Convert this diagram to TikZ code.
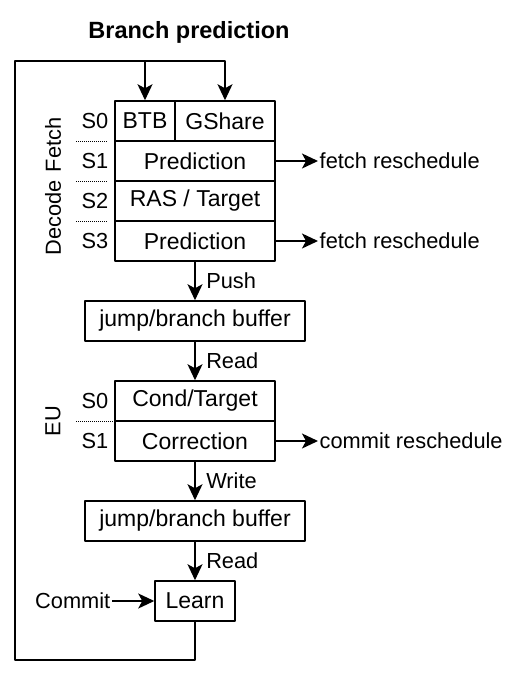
\documentclass[tikz,border=0pt]{standalone}
\usepackage{fontspec}
\setmainfont{Liberation Sans}
\usetikzlibrary{arrows.meta}
\begin{document}
\begin{tikzpicture}[x=1pt,y=-1pt,>={Stealth[length=16pt,width=15pt,inset=4pt]},line join=round,
	font=\fontsize{23}{27}\selectfont,
	cell/.style={draw,line width=1.5pt,minimum height=40pt,inner sep=0pt},
	wire/.style={line width=1.5pt},
	note/.style={inner sep=1.5pt},
	side/.style={inner sep=1.5pt,font=\fontsize{21.8}{25}\selectfont},
	sep/.style={line width=1pt,dash pattern=on 1pt off 1pt}]
	\useasboundingbox (0,0) rectangle (506,678);
	\node[font=\fontsize{23.5}{27}\selectfont\bfseries] (title) at (189,32) {Branch prediction};
	%Khối dự đoán nhánh ở Fetch/Decode
	\node[cell,minimum width=60pt] (btb) at (145,121) {BTB};
	\node[cell,minimum width=100pt] (gshare) at (225,121) {GShare};
	\node[cell,minimum width=160pt] (pred1) at (195,161) {Prediction};
	\node[cell,minimum width=160pt] (ras) at (195,201) {RAS / Target};
	\node[cell,minimum width=160pt] (pred2) at (195,241) {Prediction};
	\node[cell,minimum width=220pt] (buf1) at (195,321) {jump/branch buffer};
	%Khối EU
	\node[cell,minimum width=160pt] (cond) at (195,401) {Cond/Target};
	\node[cell,minimum width=160pt] (corr) at (195,441) {Correction};
	\node[cell,minimum width=220pt] (buf2) at (195,521) {jump/branch buffer};
	\node[cell,minimum width=80pt] (learn) at (195,601) {Learn};
	\node[side,anchor=east] (commit) at (112,601) {Commit};
	\node[side,anchor=west] (fr1) at (318,161) {fetch reschedule};
	\node[side,anchor=west] (fr2) at (318,241) {fetch reschedule};
	\node[side,anchor=west] (cr) at (318,441) {commit reschedule};
	\path
	(15,61) coordinate (lpT)
	(15,660) coordinate (lpB)
	;
	\foreach \s/\y in {S0/121, S1/161, S2/201, S3/241, S0/401, S1/441}
	\node[side] at (95,\y) {\s};
	\foreach \n/\y in {Fetch/145, Decode/218, EU/421}
	\node[side,rotate=90] at (53,\y) {\n};
	\foreach \y/\e in {141/108, 181/108, 221/108, 421/113}
	\draw[sep] (76,\y)--(\e,\y);
	%Các mũi tên
	\draw[wire,->] (learn.south) |- (lpB) -- (lpT) -| (gshare.north);
	\draw[wire,->] (lpT -| btb.north) -- (btb.north);
	\draw[wire,->] (pred2.south) -- node[side,right,xshift=9pt]{Push} (buf1.north);
	\draw[wire,->] (buf1.south) -- node[side,right,xshift=9pt]{Read} (cond.north);
	\draw[wire,->] (corr.south) -- node[side,right,xshift=9pt]{Write} (buf2.north);
	\draw[wire,->] (buf2.south) -- node[side,right,xshift=9pt]{Read} (learn.north);
	\draw[wire,->] (commit.east) -- (learn.west);
	\draw[wire,->] (pred1.east) -- (fr1.west);
	\draw[wire,->] (pred2.east) -- (fr2.west);
	\draw[wire,->] (corr.east) -- (cr.west);
\end{tikzpicture}
\end{document}
